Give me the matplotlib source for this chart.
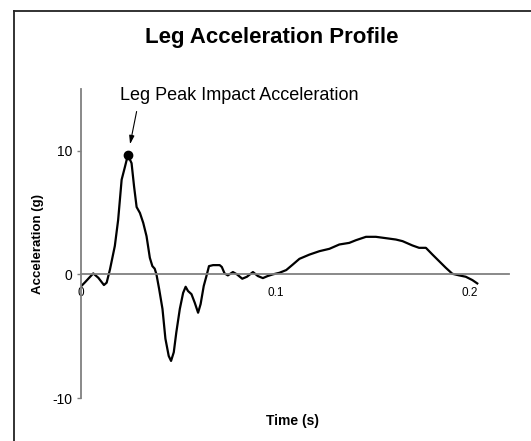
import matplotlib
matplotlib.use("Agg")
import matplotlib.pyplot as plt
from matplotlib.lines import Line2D

plt.rcParams['font.family'] = ['Liberation Sans', 'DejaVu Sans']

# time (s) and leg acceleration (g)
time_s = [0.0, 0.002, 0.0063, 0.0089, 0.0118, 0.0132, 0.0149, 0.0174, 0.0191,
          0.0209, 0.0226, 0.0241, 0.026, 0.0273, 0.0286, 0.0303, 0.032, 0.0337,
          0.0354, 0.0367, 0.0379, 0.0388, 0.0402, 0.0419, 0.0434, 0.0451, 0.0463,
          0.0477, 0.049, 0.0508, 0.0525, 0.0538, 0.055, 0.0568, 0.0585, 0.0602,
          0.0615, 0.0631, 0.0645, 0.0658, 0.0679, 0.0713, 0.0724, 0.0738, 0.0755,
          0.0781, 0.0802, 0.0829, 0.0853, 0.0884, 0.0909, 0.0935, 0.096, 0.0986,
          0.102, 0.1055, 0.1089, 0.1123, 0.1174, 0.1226, 0.1277, 0.1328, 0.1379,
          0.1414, 0.1465, 0.1516, 0.1568, 0.1619, 0.1653, 0.1704, 0.1738, 0.1773,
          0.1807, 0.1841, 0.1875, 0.1909, 0.1944, 0.1978, 0.2012, 0.2037]
accel_g = [-0.97, -0.65, 0.08, -0.27, -0.86, -0.67, 0.4, 2.3, 4.4,
           7.66, 8.7, 9.65, 9.0, 7.1, 5.45, 4.97, 4.17, 3.09,
           1.34, 0.67, 0.46, 0.0, -1.2, -2.8, -5.2, -6.6, -7.0,
           -6.3, -4.7, -2.8, -1.5, -1.0, -1.34, -1.6, -2.3, -3.1,
           -2.4, -0.94, -0.13, 0.67, 0.75, 0.75, 0.6, 0.08, -0.08,
           0.19, 0.0, -0.35, -0.19, 0.19, -0.13, -0.3, -0.13, 0.0,
           0.13, 0.35, 0.8, 1.26, 1.6, 1.88, 2.07, 2.42, 2.55,
           2.77, 3.04, 3.04, 2.93, 2.82, 2.69, 2.34, 2.15, 2.15,
           1.6, 1.07, 0.54, 0.05, -0.08, -0.19, -0.46, -0.73]

peak_t = 0.0241
peak_g = 9.65

x_ticks = [0, 0.1, 0.2]
x_labels = ['0', '0.1', '0.2']
y_ticks = [-10, 0, 10]
y_labels = ['-10', '0', '10']


def plot_data():
    fig = plt.figure(figsize=(5.31, 4.41), dpi=100)
    ax = fig.add_axes([0.1525, 0.0975, 0.806, 0.7007])

    ax.plot(time_s, accel_g, color='black', lw=1.6, solid_joinstyle='round')
    ax.plot([peak_t], [peak_g], 'o', color='black', markersize=6)

    ax.set_xlim(0, 0.22)
    ax.set_ylim(-10, 15)

    grey = '#808080'
    for s in ['top', 'right']:
        ax.spines[s].set_visible(False)
    ax.spines['bottom'].set_position(('data', 0))
    ax.spines['bottom'].set_color(grey)
    ax.spines['left'].set_color(grey)
    ax.spines['bottom'].set_linewidth(1.3)
    ax.spines['left'].set_linewidth(1.3)

    ax.set_xticks(x_ticks)
    ax.set_xticklabels(x_labels)
    ax.set_yticks(y_ticks)
    ax.set_yticklabels(y_labels)
    ax.tick_params(axis='x', length=0, pad=9, labelsize=8.5)
    ax.tick_params(axis='y', length=3, width=1, color=grey, pad=3.5, labelsize=10)

    ax.annotate('Leg Peak Impact Acceleration', xy=(peak_t, peak_g),
                xytext=(80, 43), textcoords='offset points',
                ha='center', va='center', fontsize=13)
    ax.annotate('', xy=(peak_t, peak_g), xytext=(6.3, 31.4),
                textcoords='offset points',
                arrowprops=dict(arrowstyle='-|>,head_length=0.5,head_width=0.15',
                                color='black', lw=0.8, shrinkA=0, shrinkB=8))

    fig.text(272 / 531, 1 - 38 / 441, 'Leg Acceleration Profile',
             ha='center', va='center', fontsize=16, fontweight='bold')
    fig.text(293 / 531, 1 - 421 / 441, 'Time (s)',
             ha='center', va='center', fontsize=10, fontweight='bold')
    fig.text(38 / 531, 1 - 244 / 441, 'Acceleration (g)', rotation=90,
             ha='center', va='center', fontsize=9.5, fontweight='bold')

    # outer chart frame (left and top edges only visible)
    fig.add_artist(Line2D([13.5 / 531, 13.5 / 531], [0, 1 - 10.5 / 441],
                          color='#222222', lw=1.3, transform=fig.transFigure))
    fig.add_artist(Line2D([13.5 / 531, 1], [1 - 10.5 / 441, 1 - 10.5 / 441],
                          color='#222222', lw=1.3, transform=fig.transFigure))

    fig.savefig('out.png', dpi=100)


def main():
    plot_data()


if __name__ == '__main__':
    main()
